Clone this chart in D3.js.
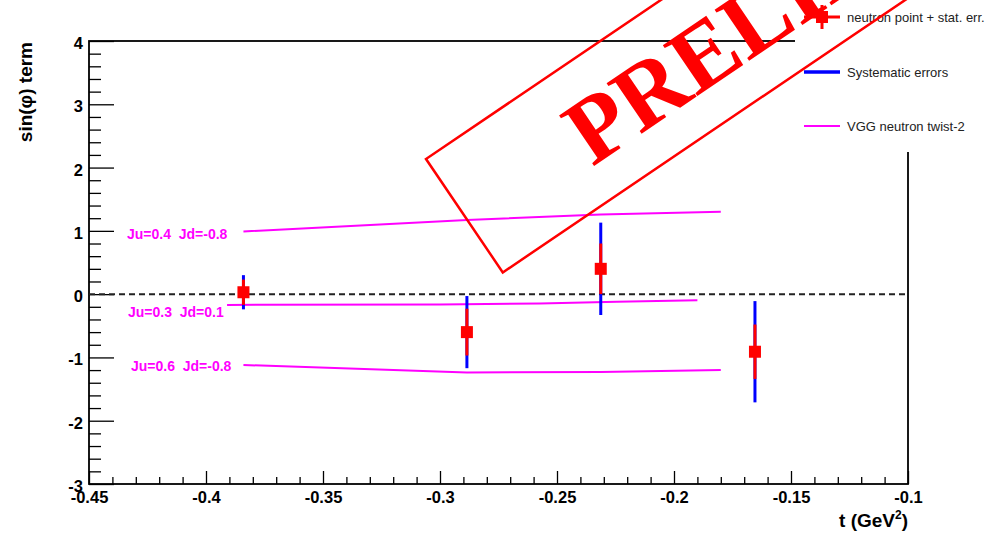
<!DOCTYPE html>
<html>
<head>
<meta charset="utf-8">
<script src="https://cdn.jsdelivr.net/npm/d3@7"></script>
<style>
  body { margin: 0; background: #fff; }
  svg { display: block; font-family: "Liberation Sans", Arial, sans-serif; }
</style>
</head>
<body>
<svg id="chart" width="989" height="540"></svg>
<script>
/* neutron points: t, sin(phi) term, stat and systematic errors */
const tPoints = [-0.384, -0.2885, -0.2313, -0.1654];
const sinPhi = [0.03, -0.60, 0.40, -0.91];
const statErr = [0.20, 0.37, 0.40, 0.43];
const sysErr = [0.27, 0.57, 0.73, 0.80];

/* VGG neutron twist-2 curves */
const vggLabels = ["Ju=0.4  Jd=-0.8", "Ju=0.3  Jd=0.1", "Ju=0.6  Jd=-0.8"];
const vggT = [
  [-0.384, -0.2885, -0.2313, -0.18],
  [-0.391, -0.30, -0.2573, -0.2244, -0.19],
  [-0.384, -0.2885, -0.2313, -0.18]
];
const vggV = [
  [0.99, 1.17, 1.26, 1.30],
  [-0.17, -0.165, -0.147, -0.12, -0.095],
  [-1.12, -1.237, -1.232, -1.20]
];

const xTicks = [-0.45, -0.4, -0.35, -0.3, -0.25, -0.2, -0.15, -0.1];
const yTicks = [-3, -2, -1, 0, 1, 2, 3, 4];

const legendLabels = ["neutron point + stat. err.", "Systematic errors", "VGG neutron twist-2"];

const svg = d3.select("#chart");

const x = d3.scaleLinear().domain([-0.45, -0.1]).range([89, 908]);
const y = d3.scaleLinear().domain([-3, 4]).range([484, 41]);

// minor ticks
const xMinor = d3.range(-0.45, -0.0999, 0.01).filter(v => Math.abs(v * 20 - Math.round(v * 20)) > 1e-6);
const yMinor = d3.range(-3, 4.001, 0.2).filter(v => Math.abs(v - Math.round(v)) > 1e-6);

const xMinorAxis = svg.append("g")
  .attr("transform", "translate(0,484)")
  .call(d3.axisBottom(x).tickValues(xMinor).tickSizeInner(-7).tickSizeOuter(0).tickFormat(""));
const yMinorAxis = svg.append("g")
  .attr("transform", "translate(89,0)")
  .call(d3.axisLeft(y).tickValues(yMinor).tickSizeInner(-12).tickSizeOuter(0).tickFormat(""));

const xAxis = svg.append("g")
  .attr("transform", "translate(0,484)")
  .call(d3.axisBottom(x).tickValues(xTicks).tickSizeInner(-13).tickSizeOuter(0).tickPadding(7)
    .tickFormat(d => String(+d.toFixed(2))));
const yAxis = svg.append("g")
  .attr("transform", "translate(89,0)")
  .call(d3.axisLeft(y).tickValues(yTicks).tickSizeInner(-25).tickSizeOuter(0).tickPadding(6)
    .tickFormat(d => String(d)));

[xMinorAxis, yMinorAxis, xAxis, yAxis].forEach(g => {
  g.select(".domain").remove();
  g.selectAll("line").attr("stroke", "#000").attr("stroke-width", 1.3);
});
[xAxis, yAxis].forEach(g => {
  g.selectAll("text").attr("fill", "#000")
    .style("font-family", "'Liberation Sans', Arial, sans-serif")
    .style("font-size", "16.5px").style("font-weight", "bold");
});
yAxis.selectAll("text").attr("dy", "0.45em");

// frame
svg.append("rect")
  .attr("x", 89).attr("y", 41).attr("width", 908 - 89).attr("height", 484 - 41)
  .attr("fill", "none").attr("stroke", "#000").attr("stroke-width", 1.8);

// axis titles
svg.append("text")
  .attr("transform", "translate(32,42) rotate(-90)")
  .attr("text-anchor", "end")
  .style("font-size", "19px").style("font-weight", "bold")
  .text("sin(φ) term");

const xTitle = svg.append("text")
  .attr("x", 908).attr("y", 527).attr("text-anchor", "end")
  .style("font-size", "19px").style("font-weight", "bold");
xTitle.append("tspan").text("t (GeV");
xTitle.append("tspan").attr("dy", -8).style("font-size", "12px").text("2");
xTitle.append("tspan").attr("dy", 8).text(")");

// zero line
svg.append("line")
  .attr("x1", x(-0.45)).attr("x2", x(-0.1)).attr("y1", y(0)).attr("y2", y(0))
  .attr("stroke", "#222").attr("stroke-width", 2).attr("stroke-dasharray", "6,4");

// VGG curves
const line = d3.line().x(d => x(d[0])).y(d => y(d[1]));
vggT.forEach((ts, i) => {
  svg.append("path")
    .datum(ts.map((t, j) => [t, vggV[i][j]]))
    .attr("d", line)
    .attr("fill", "none").attr("stroke", "#ff00ff").attr("stroke-width", 2);
});

const labelPos = [[127, 234], [128, 312], [131, 366]];
vggLabels.forEach((s, i) => {
  svg.append("text")
    .attr("x", labelPos[i][0]).attr("y", labelPos[i][1]).attr("dy", "0.35em")
    .attr("fill", "#ff00ff")
    .style("font-size", "14px").style("font-weight", "bold")
    .style("white-space", "pre")
    .text(s);
});

// data points
const pts = tPoints.map((t, i) => ({ t, v: sinPhi[i], s: statErr[i], e: sysErr[i] }));
svg.selectAll(".sys").data(pts).enter().append("line")
  .attr("x1", d => x(d.t)).attr("x2", d => x(d.t))
  .attr("y1", d => y(d.v + d.e)).attr("y2", d => y(d.v - d.e))
  .attr("stroke", "#0000ff").attr("stroke-width", 3);
svg.selectAll(".stat").data(pts).enter().append("line")
  .attr("x1", d => x(d.t)).attr("x2", d => x(d.t))
  .attr("y1", d => y(d.v + d.s)).attr("y2", d => y(d.v - d.s))
  .attr("stroke", "#ff0000").attr("stroke-width", 3);
svg.selectAll(".pt").data(pts).enter().append("rect")
  .attr("x", d => x(d.t) - 6).attr("y", d => y(d.v) - 6)
  .attr("width", 12).attr("height", 12).attr("fill", "#ff0000");

// legend box
const legend = svg.append("g");
legend.append("rect").attr("x", 795).attr("y", 0).attr("width", 200).attr("height", 152).attr("fill", "#fff");
const legY = [17, 72, 126];
legend.append("line").attr("x1", 804).attr("x2", 840).attr("y1", legY[0]).attr("y2", legY[0])
  .attr("stroke", "#ff0000").attr("stroke-width", 3);
legend.append("line").attr("x1", 822).attr("x2", 822).attr("y1", legY[0] - 12).attr("y2", legY[0] + 12)
  .attr("stroke", "#ff0000").attr("stroke-width", 3);
legend.append("rect").attr("x", 816).attr("y", legY[0] - 6).attr("width", 12).attr("height", 12).attr("fill", "#ff0000");
legend.append("line").attr("x1", 804).attr("x2", 840).attr("y1", legY[1]).attr("y2", legY[1])
  .attr("stroke", "#0000ff").attr("stroke-width", 3.5);
legend.append("line").attr("x1", 804).attr("x2", 840).attr("y1", legY[2]).attr("y2", legY[2])
  .attr("stroke", "#ff00ff").attr("stroke-width", 2);
legendLabels.forEach((s, i) => {
  legend.append("text").attr("x", 847).attr("y", legY[i]).attr("dy", "0.35em")
    .attr("fill", "#222").style("font-size", "13px").text(s);
});

// preliminary stamp
const stamp = svg.append("g").attr("transform", "translate(426,159) rotate(-34.1)");
stamp.append("rect").attr("x", 0).attr("y", 0).attr("width", 800).attr("height", 137)
  .attr("fill", "none").attr("stroke", "#ff0000").attr("stroke-width", 2.5);
stamp.append("text").attr("x", 133).attr("y", 100)
  .attr("fill", "#ff0000")
  .style("font-family", "'Liberation Serif', 'Times New Roman', serif")
  .style("font-size", "94px").style("font-weight", "bold")
  .text("PRELIMINARY");
</script>
</body>
</html>
